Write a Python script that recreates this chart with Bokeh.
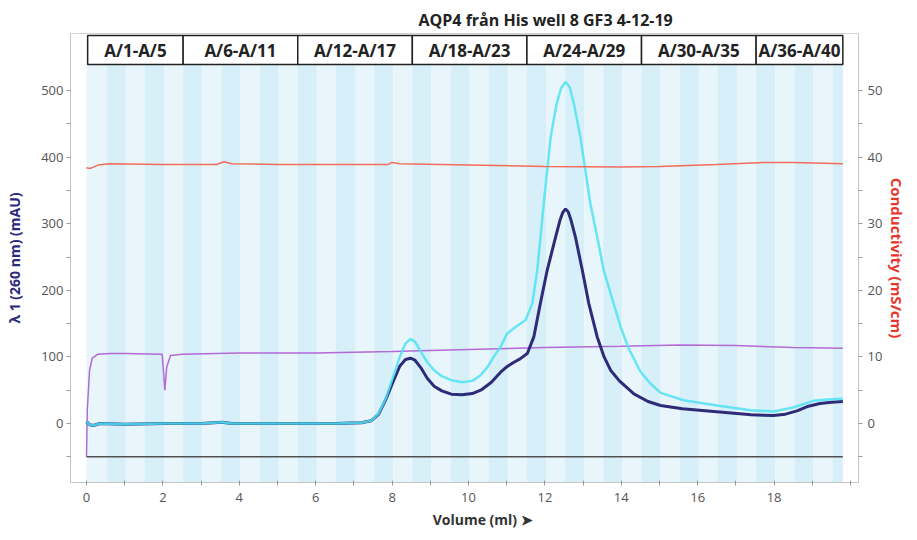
from bokeh.plotting import figure
from bokeh.models import Range1d, LinearAxis, FixedTicker
from bokeh.core.properties import value
from bokeh.embed import file_html
from bokeh.resources import INLINE

# ---------------- data ----------------
volume_uv260 = [0.0, 0.08, 0.18, 0.35, 1.0, 2.0, 3.0, 3.55, 3.65, 3.8, 5.0, 6.5, 7.2, 7.45, 7.65,
                7.85, 8.05, 8.2, 8.35, 8.48, 8.6, 8.75, 8.92, 9.1, 9.3, 9.55, 9.83, 10.1, 10.35,
                10.6, 10.84, 11.0, 11.19, 11.35, 11.54, 11.71, 11.88, 12.06, 12.28, 12.4, 12.47, 12.54,
                12.61, 12.68, 12.8, 12.98, 13.15, 13.37, 13.55, 13.72, 13.95, 14.33, 14.7, 15.03, 15.6,
                16.2, 16.8, 17.4, 17.98, 18.3, 18.6, 18.9, 19.2, 19.5, 19.8]
uv260 = [3, -2, -3, 0, -1, 0, 0, 2, 1, 0, 0, 0, 1, 4, 14,
         38, 66, 86, 96, 98, 95, 84, 68, 56, 49, 44, 43, 45, 51,
         62, 77, 85, 92, 97, 105, 130, 180, 230, 280, 306, 317, 322,
         318, 306, 280, 230, 180, 130, 100, 80, 64, 44.5, 33, 27, 22,
         19, 16, 13, 12, 14, 19, 26, 30, 32, 33]

volume_uv280 = [0.0, 0.08, 0.18, 0.35, 1.0, 2.0, 3.0, 3.55, 3.65, 3.8, 5.0, 6.5, 7.2, 7.45, 7.65,
                7.85, 8.05, 8.2, 8.35, 8.48, 8.6, 8.75, 8.92, 9.1, 9.3, 9.55, 9.83, 10.1, 10.31,
                10.5, 10.66, 10.84, 11.01, 11.23, 11.49, 11.67, 11.8, 11.97, 12.15, 12.3, 12.42, 12.54,
                12.65, 12.76, 12.93, 13.06, 13.19, 13.37, 13.54, 13.8, 14.0, 14.2, 14.5, 14.76, 15.03,
                15.63, 16.5, 17.38, 17.98, 18.5, 19.03, 19.4, 19.8]
uv280 = [3, -2, -3, 0, -1, 0, 0, 2, 1, 0, 0, 0, 1, 4, 15,
         40, 74, 100, 120, 127, 123, 108, 92, 80, 71, 65, 62, 64, 72,
         85, 100, 115, 135, 145, 155, 180, 230, 330, 430, 478, 503, 513,
         505, 480, 430, 380, 330, 280, 230, 180, 142, 112, 78, 60, 46,
         35, 27, 20, 18, 24, 34, 36, 37]

volume_cond = [0.0, 0.1, 0.3, 0.6, 2.0, 3.4, 3.6, 3.8, 5.0, 7.9, 8.0, 8.2, 10.0, 12.0, 14.0,
               15.0, 16.5, 17.8, 18.5, 19.8]
conductivity = [38.4, 38.3, 38.8, 39.0, 38.9, 38.9, 39.3, 39.0, 38.9, 38.9, 39.2, 39.0, 38.8,
                38.6, 38.5, 38.6, 38.9, 39.2, 39.2, 39.0]

volume_aux = [0.0, 0.02, 0.08, 0.15, 0.3, 0.6, 1.0, 1.98, 2.02, 2.05, 2.1, 2.2, 2.5, 4.0, 6.0,
              8.0, 10.0, 12.0, 14.0, 15.5, 17.0, 18.5, 19.8]
aux_signal = [-50, 20, 80, 98, 104, 105, 105, 104, 75, 50, 85, 102, 104, 106, 106,
              108, 111, 114, 116, 118, 117, 114, 113]

baseline_volume = [0.0, 19.8]
baseline_level = [-50, -50]

fraction_edges = [0.0, 0.53, 1.03, 1.53, 2.03, 2.53, 3.03, 3.53, 4.03, 4.53, 5.03, 5.53, 6.03,
                  6.53, 7.03, 7.53, 8.03, 8.53, 9.03, 9.53, 10.03, 10.53, 11.03, 11.53, 12.03,
                  12.53, 13.03, 13.53, 14.03, 14.53, 15.03, 15.53, 16.03, 16.53, 17.03, 17.53,
                  18.03, 18.53, 19.03, 19.53, 19.8]
group_labels = ["A/1-A/5", "A/6-A/11", "A/12-A/17", "A/18-A/23", "A/24-A/29", "A/30-A/35", "A/36-A/40"]
group_edges = [0.03, 2.53, 5.53, 8.53, 11.53, 14.53, 17.53, 19.8]

x_major = [0, 2, 4, 6, 8, 10, 12, 14, 16, 18]
x_minor = [1, 3, 5, 7, 9, 11, 13, 15, 17, 19, 20]
uv_major = [0, 100, 200, 300, 400, 500]
uv_minor = [-50, 50, 150, 250, 350, 450]
cond_major = [0, 10, 20, 30, 40, 50]
cond_minor = [-5, 5, 15, 25, 35, 45]

# ---------------- layout constants ----------------
Y_LO, Y_HI = -88.6, 585.6
BOX_BOTTOM, BOX_TOP = 539.0, 582.6
FONT = "Open Sans"
TICK_COLOR = "#555555"
AXIS_COLOR = "#c4c4c4"
NBSP = "\u00a0"

p = figure(width=917, height=540, x_range=Range1d(-0.419, 20.21), y_range=Range1d(Y_LO, Y_HI),
           output_backend="svg", toolbar_location=None,
           min_border_left=70, min_border_right=59, min_border_top=33, min_border_bottom=58)
p.extra_y_ranges = {"cond": Range1d(Y_LO / 10.0, Y_HI / 10.0)}
p.xgrid.visible = False
p.ygrid.visible = False
p.outline_line_color = "#d4d4d4"
p.background_fill_color = "white"
p.border_fill_color = "white"

# title
p.title.text = "AQP4 från His well 8 GF3 4-12-19"
p.title.align = "left"
p.title.offset = 348
p.title.text_font = FONT
p.title.text_font_size = "16px"
p.title.text_font_style = "bold"
p.title.text_color = "#222222"
p.title.standoff = 5

# fraction stripes
s_left = fraction_edges[:-1]
s_right = fraction_edges[1:]
s_color = ["#e8f5fb" if i % 2 == 0 else "#d7eff8" for i in range(len(s_left))]
p.quad(left=s_left, right=s_right, bottom=Y_LO, top=BOX_BOTTOM, fill_color=s_color, line_color=None)

# fraction group boxes
p.quad(left=group_edges[:-1], right=group_edges[1:], bottom=BOX_BOTTOM, top=BOX_TOP,
       fill_color="white", line_color="#222222", line_width=1.5)
gx = [(a + b) / 2 for a, b in zip(group_edges[:-1], group_edges[1:])]
p.text(x=gx, y=[(BOX_BOTTOM + BOX_TOP) / 2] * len(gx), text=group_labels,
       text_font=value(FONT), text_font_size="17px", text_font_style="bold",
       text_color="#222222", text_align="center", text_baseline="middle")

# traces
p.line(volume_aux, aux_signal, line_color="#b36ad6", line_width=1.5)
p.line(baseline_volume, baseline_level, line_color="#505050", line_width=1.5)
p.line(volume_uv260, uv260, line_color="#2e2b78", line_width=3)
p.line(volume_uv280, uv280, line_color="#4fe3f3", line_width=2.5, line_alpha=0.85)
p.line(volume_cond, conductivity, line_color="#f26b5b", line_width=1.5, y_range_name="cond")

def style_axis(ax):
    ax.axis_line_color = AXIS_COLOR
    ax.major_tick_line_color = "#999999"
    ax.minor_tick_line_color = "#999999"
    ax.major_label_text_font = FONT
    ax.major_label_text_font_size = "13px"
    ax.major_label_text_color = TICK_COLOR
    ax.axis_label_text_font = FONT
    ax.axis_label_text_font_size = "14px"
    ax.axis_label_text_font_style = "bold"

# x axis
xa = p.xaxis[0]
style_axis(xa)
xa.ticker = FixedTicker(ticks=x_major, minor_ticks=x_minor)
xa.major_tick_in = 2
xa.major_tick_out = 3
xa.minor_tick_in = 2
xa.minor_tick_out = 3
xa.major_label_standoff = 7
xa.axis_label = NBSP * 10 + "Volume (ml) ➤"
xa.axis_label_text_color = "#333333"
xa.axis_label_standoff = 5

# left axis
ya = p.yaxis[0]
style_axis(ya)
ya.ticker = FixedTicker(ticks=uv_major, minor_ticks=uv_minor)
ya.major_tick_in = 0
ya.major_tick_out = 4
ya.minor_tick_in = 0
ya.minor_tick_out = 4
ya.major_label_standoff = 3
ya.axis_label = "λ 1 (260 nm) (mAU)"
ya.axis_label_text_color = "#2b2a7c"
ya.axis_label_standoff = 14

# right axis
ra = LinearAxis(y_range_name="cond")
style_axis(ra)
ra.ticker = FixedTicker(ticks=cond_major, minor_ticks=cond_minor)
ra.major_tick_in = 0
ra.major_tick_out = 4
ra.minor_tick_in = 0
ra.minor_tick_out = 4
ra.major_label_standoff = 5
ra.axis_label = "Conductivity (mS/cm)"
ra.axis_label_text_color = "#e8352a"
ra.axis_label_text_font_size = "15px"
ra.axis_label_standoff = 2
p.add_layout(ra, "right")

open("out.html", "w").write(file_html(p, INLINE))
